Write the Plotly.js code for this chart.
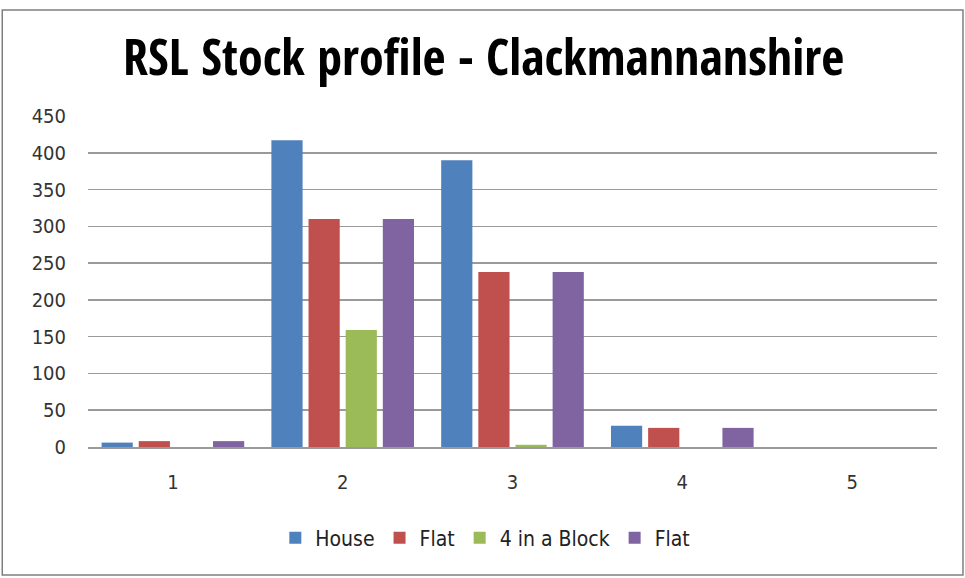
<!DOCTYPE html>
<html><head><meta charset="utf-8">
<script src="https://cdn.plot.ly/plotly-3.0.1.min.js"></script>
<style>html,body{margin:0;padding:0;background:#fff;}#c{width:965px;height:578px;}</style>
</head><body><div id="c"></div>
<script>
const categories = ["1", "2", "3", "4", "5"];
const seriesNames = ["House", "Flat", "4 in a Block", "Flat"];
const house = [6, 417, 390, 29, 0];
const flat = [8, 310, 238, 26, 0];
const fourInBlock = [0, 159, 3, 0, 0];
const flat2 = [8, 310, 238, 26, 0];
const colors = ["#4f81bd", "#c0504d", "#9bbb59", "#8064a2"];
const yTicks = [0, 50, 100, 150, 200, 250, 300, 350, 400, 450];

const allSeries = [house, flat, fourInBlock, flat2];
const traces = allSeries.map((vals, i) => ({
  type: "bar",
  name: seriesNames[i],
  x: categories,
  y: vals,
  marker: {color: colors[i], line: {width: 0}},
  hoverinfo: "x+y+name"
}));

const layout = {
  width: 965, height: 578,
  margin: {l: 88, r: 28, t: 116, b: 131},
  paper_bgcolor: "#fff", plot_bgcolor: "#fff",
  font: {family: "DejaVu Sans Condensed, Liberation Sans, sans-serif", color: "#333", size: 20},
  title: {text: "<b>RSL Stock profile - Clackmannanshire</b>", x: 0.466, xref: "paper", xanchor: "center",
          y: 0.9, yanchor: "middle",
          font: {family: "Open Sans Condensed, DejaVu Sans Condensed, sans-serif", size: 50, color: "#000"}},
  barmode: "group",
  bargap: 0.125,
  bargroupgap: 0.16,
  showlegend: true,
  legend: {orientation: "h", x: 0.468, xanchor: "center", y: -0.275, yanchor: "middle",
           font: {size: 21, color: "#222"}, itemwidth: 30, traceorder: "normal"},
  xaxis: {type: "category", showgrid: false, showline: true, linecolor: "#9a9a9a", linewidth: 2,
          ticks: "", tickfont: {size: 20, color: "#333"}, ticklabelstandoff: 16},
  yaxis: {range: [0, 450], tickvals: yTicks, showgrid: true, gridcolor: "#9a9a9a", gridwidth: 1.5,
          zeroline: false, showline: false, ticks: "", tickfont: {size: 20, color: "#333"}, ticklabelstandoff: 21},
  shapes: [{type: "rect", xref: "paper", yref: "paper", x0: -0.101, x1: 1.0306, y0: -0.387, y1: 1.32,
            line: {color: "#7f7f7f", width: 1.5}, fillcolor: "rgba(0,0,0,0)"}]
};
Plotly.newPlot("c", traces, layout, {displayModeBar: false, staticPlot: true});
</script></body></html>
